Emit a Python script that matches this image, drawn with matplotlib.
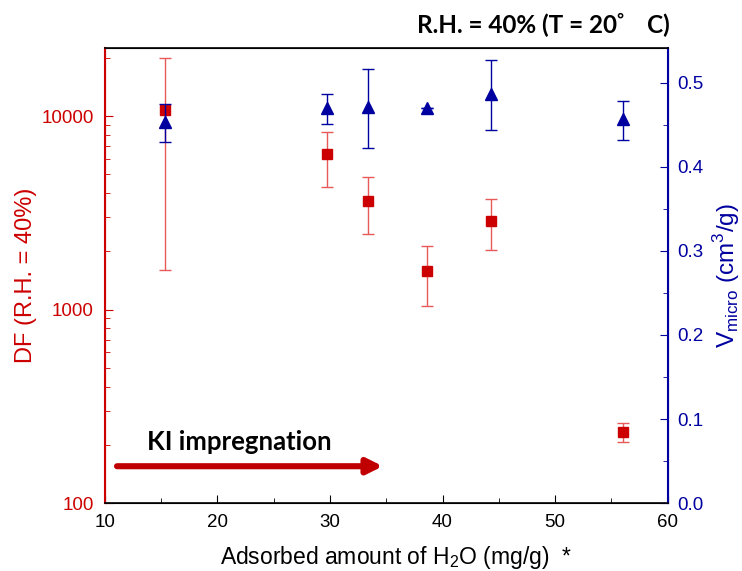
import matplotlib
matplotlib.use("Agg")
import matplotlib.pyplot as plt
from matplotlib.ticker import LogLocator, FixedLocator, NullFormatter, MultipleLocator

# data
h2o = [15.4, 29.7, 33.4, 38.6, 44.3, 56.0]
df = [10800, 6340, 3650, 1585, 2865, 232]
df_lo = [1600, 4300, 2460, 1044, 2040, 208]
df_hi = [20000, 8280, 4850, 2120, 3730, 258]
vmicro = [0.454, 0.470, 0.471, 0.470, 0.487, 0.457]
v_lo = [0.430, 0.451, 0.422, 0.470, 0.444, 0.432]
v_hi = [0.475, 0.487, 0.517, 0.470, 0.527, 0.479]

RED = "#CC0000"
RED_LIGHT = "#E85A5A"
BLUE = "#0000A0"

plt.rcParams['font.family'] = ['Liberation Sans', 'DejaVu Sans']

fig = plt.figure(figsize=(7.42, 5.71), dpi=100)
ax = fig.add_axes([0.141, 0.119, 0.759, 0.797])
ax2 = ax.twinx()

yerr_df = [[d - l for d, l in zip(df, df_lo)], [h - d for d, h in zip(df, df_hi)]]
ax.errorbar(h2o, df, yerr=yerr_df, fmt='s', color=RED, ecolor=RED_LIGHT,
            elinewidth=1.0, capsize=4, capthick=1.0, markersize=7.5, zorder=3)
yerr_v = [[v - l for v, l in zip(vmicro, v_lo)], [h - v for v, h in zip(vmicro, v_hi)]]
ax2.errorbar(h2o, vmicro, yerr=yerr_v, fmt='^', color=BLUE, ecolor=BLUE,
             elinewidth=1.0, capsize=4, capthick=1.0, markersize=9, zorder=3)

ax.set_yscale('log')
ax.set_xlim(10, 60)
ax.set_ylim(100, 22500)

ax.yaxis.set_major_locator(FixedLocator([100, 1000, 10000]))
ax.set_yticklabels(['100', '1000', '10000'])
ax.yaxis.set_minor_locator(LogLocator(base=10, subs=range(2, 10)))
ax.yaxis.set_minor_formatter(NullFormatter())
ax.xaxis.set_major_locator(MultipleLocator(10))
ax.xaxis.set_minor_locator(MultipleLocator(5))
ax2.yaxis.set_minor_locator(MultipleLocator(0.05))
ax2.set_yticks([0.0, 0.1, 0.2, 0.3, 0.4, 0.5])
ax2.set_yticklabels(['0.0', '0.1', '0.2', '0.3', '0.4', '0.5'])
ax2.set_ylim(0, 0.5416)

ax.tick_params(axis='x', which='both', direction='in', top=False, labelsize=13.5,
               colors='black', pad=8)
ax.tick_params(axis='x', which='major', length=6)
ax.tick_params(axis='x', which='minor', length=3.5)
ax.tick_params(axis='y', which='both', direction='in', colors=RED, labelsize=13.5, pad=8)
ax.tick_params(axis='y', which='major', length=6)
ax.tick_params(axis='y', which='minor', length=3.5)
ax2.tick_params(axis='y', which='both', direction='in', colors=BLUE, labelsize=13.5, pad=7)
ax2.tick_params(axis='y', which='major', length=6)
ax2.tick_params(axis='y', which='minor', length=3.5)

ax.spines['left'].set_color(RED)
ax2.spines['left'].set_color(RED)
ax2.spines['right'].set_color(BLUE)
ax.spines['right'].set_color(BLUE)
for s in ['left', 'right']:
    ax2.spines[s].set_linewidth(1.5)
ax2.spines['bottom'].set_linewidth(1.2)
ax2.spines['top'].set_linewidth(1.2)

ax.set_ylabel('DF (R.H. = 40%)', color=RED, fontsize=17, labelpad=3)
ax2.set_ylabel(r'V$_{\mathregular{micro}}$ (cm$^{\mathregular{3}}$/g)', color=BLUE,
               fontsize=17.5, labelpad=5)
ax.set_xlabel(r'Adsorbed amount of H$_{\mathregular{2}}$O (mg/g)  *', fontsize=16.5, labelpad=9)
ax.xaxis.label.set_x(0.518)

ax.annotate('', xy=(34.7, 155), xytext=(11.1, 155),
            arrowprops=dict(arrowstyle='-|>,head_length=0.9,head_width=0.45',
                            color='#C00000', lw=4.4, shrinkA=0, shrinkB=0))
ax.text(13.8, 206, 'KI impregnation', fontsize=18.5, fontweight='bold',
        family=['Lato', 'DejaVu Sans'], va='center', ha='left', color='black')

fig.text(0.902, 0.957, 'R.H. = 40% (T = 20゜ C)', fontsize=17.5, fontweight='bold',
         family=['Lato', 'Noto Sans CJK JP', 'DejaVu Sans'], ha='right', va='center')

fig.savefig('out.png', dpi=100)
